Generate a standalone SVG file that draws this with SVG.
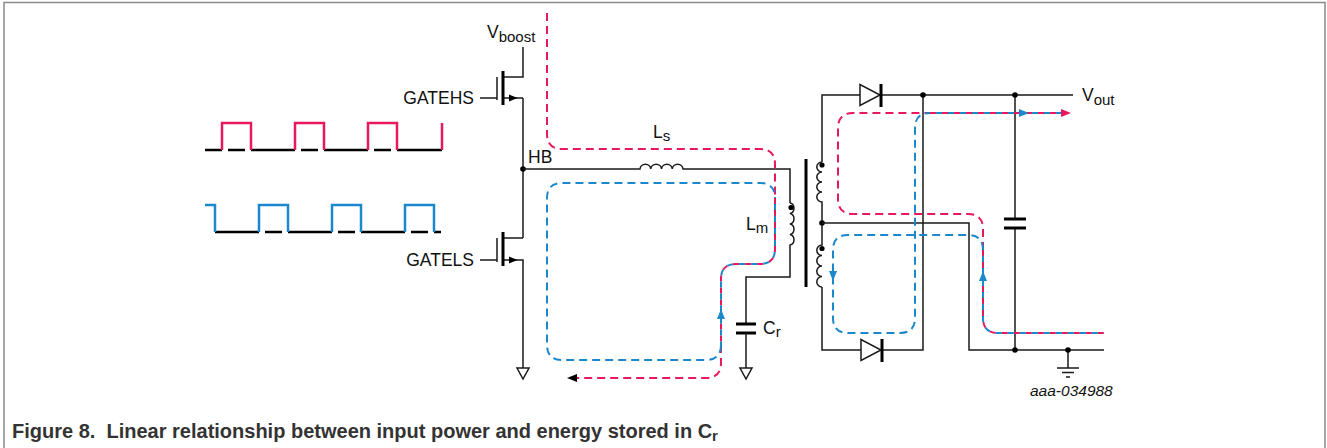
<svg xmlns="http://www.w3.org/2000/svg" width="1327" height="448" viewBox="0 0 1327 448">
<style>
.w{fill:none;stroke:#1a1a1a;stroke-width:1.5}
.bar{fill:none;stroke:#000;stroke-width:3}
.t{font-family:"Liberation Sans",Arial,sans-serif;font-size:17.5px;fill:#111}
.s{font-size:15px}
.r{fill:none;stroke:#e8185c;stroke-width:2;stroke-dasharray:8 5}
.b{fill:none;stroke:#1b87cc;stroke-width:2;stroke-dasharray:8 5}
.rs{fill:none;stroke:#e8185c;stroke-width:2;stroke-dasharray:6 6}
.bs{fill:none;stroke:#1b87cc;stroke-width:2;stroke-dasharray:6 6;stroke-dashoffset:6}
.wr{fill:none;stroke:#e8185c;stroke-width:2.5}
.wb{fill:none;stroke:#1b87cc;stroke-width:2.5}
.wk{fill:none;stroke:#000;stroke-width:2.5}
.gnd{fill:#fff;stroke:#1a1a1a;stroke-width:1.5}
.dot{fill:#000}
</style>
<rect x="4" y="2.5" width="1321" height="450" fill="#fff" stroke="#8a8a8a" stroke-width="1.5"/>

<g id="waveform-hs">
<path class="wk" d="M205,150 H222 M251,150 H295 M324,150 H368 M397,150 H442 M228,150 H245 M301,150 H318 M374,150 H391"/>
<path class="wr" d="M222,150 V123 H251 V150 M295,150 V123 H324 V150 M368,150 V123 H397 V150 M442,150 V123"/>
</g>
<g id="waveform-ls">
<path class="wk" d="M215,232 H259 M288,232 H332 M361,232 H405 M434,232 H441 M265,232 H282 M338,232 H355 M411,232 H428"/>
<path class="wb" d="M205,205 H215 V232 M259,232 V205 H288 V232 M332,232 V205 H361 V232 M405,232 V205 H434 V232"/>
</g>

<g id="mosfet-hs">
<path class="w" d="M523,47 V77 H504 M480,98 H497 M504,98 H523"/>
<path class="bar" d="M503,71 V105"/>
<path class="w" stroke-width="2" d="M497,77 V100"/>
<path class="dot" d="M517.5,98 L509,94.5 V101.5 Z"/>
<text class="t" x="487" y="38">V<tspan class="s" dy="4">boost</tspan></text>
<text class="t" x="474" y="104" text-anchor="end">GATEHS</text>
</g>
<g id="mosfet-ls">
<path class="w" d="M523,238 H504 M480,260 H497 M504,260 H523 V368"/>
<path class="bar" d="M503,232 V266"/>
<path class="w" stroke-width="2" d="M497,238 V262"/>
<path class="dot" d="M517.5,260 L509,256.5 V263.5 Z"/>
<path class="gnd" d="M517,368 H529 L523,379 Z"/>
<text class="t" x="474" y="266" text-anchor="end">GATELS</text>
</g>
<g id="hb">
<path class="w" d="M523,98 V238"/>
<circle class="dot" cx="523" cy="169" r="2.8"/>
<text class="t" x="528" y="163">HB</text>
</g>
<g id="ls">
<path class="w" d="M523,169 H640 a5.4,5.2 0 0 1 10.75,0 a5.4,5.2 0 0 1 10.75,0 a5.4,5.2 0 0 1 10.75,0 a5.4,5.2 0 0 1 10.75,0 H790 V203"/>
<text class="t" x="653" y="138">L<tspan class="s" dy="3">s</tspan></text>
</g>
<g id="lm">
<path class="w" d="M790,203 a5.2,5.4 0 0 1 0,10.5 a5.2,5.4 0 0 1 0,10.5 a5.2,5.4 0 0 1 0,10.5 a5.2,5.4 0 0 1 0,10.5 V277 H746 V324"/>
<circle class="dot" cx="791" cy="207.5" r="2.6"/>
<text class="t" x="746" y="230">L<tspan class="s" dy="3">m</tspan></text>
</g>
<g id="cr">
<path class="bar" stroke-width="3.5" d="M736,324 H756 M736,333 H756"/>
<path class="w" d="M746,333 V368"/>
<path class="gnd" d="M740,368 H752 L746,379 Z"/>
<text class="t" x="763" y="334">C<tspan class="s" dy="3">r</tspan></text>
</g>
<g id="transformer">
<path class="bar" stroke-width="3.5" d="M806,159 V287"/>
<path class="w" d="M822,162 a5.2,5 0 0 0 0,10 a5.2,5 0 0 0 0,10 a5.2,5 0 0 0 0,10 a5.2,5 0 0 0 0,10 V245 a5.2,5.25 0 0 0 0,10.5 a5.2,5.25 0 0 0 0,10.5 a5.2,5.25 0 0 0 0,10.5 a5.2,5.25 0 0 0 0,10.5"/>
<circle class="dot" cx="822" cy="165" r="2.6"/>
<circle class="dot" cx="822" cy="248.5" r="2.6"/>
<circle class="dot" cx="822" cy="223" r="2.8"/>
</g>
<g id="d-top">
<path class="w" d="M822,162 V95 H860 M882,95 H1073"/>
<path class="gnd" d="M860,84.5 V105.5 L880,95 Z"/>
<path class="bar" d="M881,84 V107"/>
</g>
<g id="d-bottom">
<path class="w" d="M822,287 V350 H861 M883,350 H923 V95"/>
<path class="gnd" d="M861,339.5 V360.5 L881,350 Z"/>
<path class="bar" d="M882,339 V362"/>
</g>
<g id="center-tap">
<path class="w" d="M822,223 H969 V350 H1104"/>
</g>
<g id="cout">
<path class="w" d="M1015,95 V219 M1015,228 V350"/>
<path class="bar" stroke-width="3.5" d="M1004,219 H1026 M1004,228 H1026"/>
<circle class="dot" cx="923" cy="95" r="2.8"/>
<circle class="dot" cx="1015" cy="95" r="2.8"/>
<circle class="dot" cx="1015" cy="350" r="2.8"/>
<text class="t" x="1082" y="101">V<tspan class="s" dy="4">out</tspan></text>
</g>
<g id="ground">
<path class="w" d="M1068,350 V368 M1057,368 H1079 M1062,372.5 H1074 M1066,377 H1070"/>
<circle class="dot" cx="1068" cy="350" r="2.8"/>
</g>

<g id="connectors">
<path class="r" d="M547,13 V134 Q547,149 562,149 H760 Q775,149 775,164 V198"/>
<path class="r" d="M721,345 V363 Q721,378 706,378 H576"/>
<path class="dot" fill="#e8185c" d="M567,378 L577,374 V382 Z"/>
<path class="b" d="M721,345 Q721,360 706,360 H562 Q547,360 547,345 V198 Q547,183 562,183 H760 Q775,183 775,198"/>
<path class="rs" d="M775,198 V249 Q775,264 760,264 H736 Q721,264 721,279 V345"/>
<path class="bs" d="M775,198 V249 Q775,264 760,264 H736 Q721,264 721,279 V345"/>
<path fill="#1b87cc" d="M721,309 L717,319 H725 Z"/>

<path class="r" d="M983,250 V229 Q983,214 968,214 H853 Q838,214 838,199 V128 Q838,113 853,113 H930"/>
<path class="b" d="M983,250 Q983,235 968,235 H848 Q833,235 833,250 V318 Q833,333 848,333 H900 Q915,333 915,318 V128 Q915,113 930,113"/>
<path class="rs" d="M930,113 H1062"/>
<path class="bs" d="M930,113 H1062"/>
<path class="rs" d="M983,250 V318 Q983,333 998,333 H1104"/>
<path class="bs" d="M983,250 V318 Q983,333 998,333 H1104"/>
<path fill="#1b87cc" d="M1029,113 L1019,109 V117 Z"/>
<path fill="#e8185c" d="M1071,113 L1061,109 V117 Z"/>
<path fill="#1b87cc" d="M983,271 L979,281 H987 Z"/>
<path fill="#1b87cc" d="M833,281 L829,271 H837 Z"/>
</g>

<text x="1030" y="396" font-family="'Liberation Sans',Arial,sans-serif" font-size="15.5" font-style="italic" fill="#111">aaa-034988</text>
<text x="12" y="438" xml:space="preserve" font-family="'Liberation Sans',Arial,sans-serif" font-size="20" font-weight="bold" fill="#333">Figure 8.  Linear relationship between input power and energy stored in C<tspan font-size="15" dy="3">r</tspan></text>
</svg>
